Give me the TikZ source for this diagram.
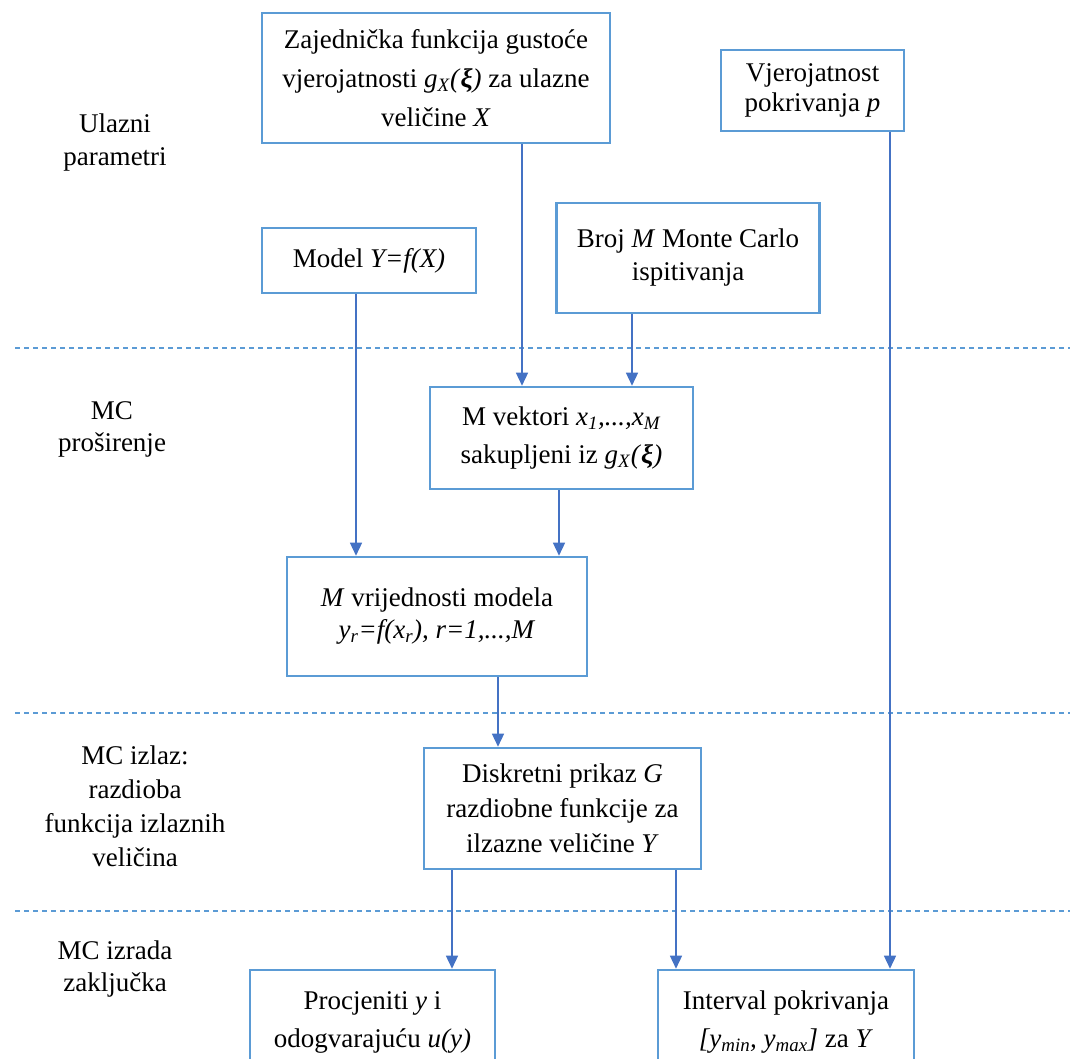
\documentclass[tikz,border=0pt]{standalone}
\usepackage{fontspec}
\setmainfont{Liberation Serif}
\usetikzlibrary{arrows.meta}
\definecolor{boxblue}{RGB}{91,155,213}
\definecolor{arrblue}{RGB}{68,114,196}
\newcommand{\sbs}[1]{\textsubscript{#1}}
\tikzset{
 blk/.style={draw=boxblue, line width=2.6pt, align=center, inner sep=0pt, text=black},
 fs/.style={font=\fontsize{27}{#1}\selectfont},
 arr/.style={draw=arrblue, line width=1.5pt, -{Triangle[width=12pt,length=13pt]}},
 sepline/.style={draw=boxblue, line width=1.3pt, dash pattern=on 5pt off 4pt},
 lab/.style={align=center, inner sep=0pt, text=black},
}
\begin{document}
\begin{tikzpicture}[x=1pt,y=-1pt]
\useasboundingbox (0,0) rectangle (1072,1059);
\clip (0,0) rectangle (1072,1059);

% separators
\draw[sepline] (15,348) -- (1070,348);
\draw[sepline] (15,713) -- (1070,713);
\draw[sepline] (15,911) -- (1070,911);

% left labels
\node[lab, fs=33] (l1) at (115,143) {Ulazni\\parametri};
\node[lab, fs=32] (l2) at (112,429) {MC\\proširenje};
\node[lab, fs=34] (l3) at (135,806) {MC izlaz:\\razdioba\\funkcija izlaznih\\veličina};
\node[lab, fs=32] (l4) at (115,969) {MC izrada\\zaključka};

% boxes
\node[blk, fs=39, minimum width=348pt, minimum height=130pt] (dens) at (436,78)
  {Zajednička funkcija gustoće\\vjerojatnosti \textit{g}\sbs{\textit{X}}\textit{(}\textbf{\textit{ξ}}\textit{)} za ulazne\\veličine \textit{X}};
\node[blk, fs=30, minimum width=183pt, minimum height=81pt] (vjer) at (812.5,90.5)
  {Vjerojatnost\\pokrivanja \textit{p}};
\node[blk, fs=30, minimum width=214pt, minimum height=65pt] (model) at (369,260.5)
  {Model \textit{Y=f(X)}};
\node[blk, fs=33, minimum width=263pt, minimum height=110pt] (broj) at (688,258)
  {Broj \textit{M} Monte Carlo\\ispitivanja};
\node[blk, fs=38, minimum width=263pt, minimum height=102pt] (vekt) at (561.5,438)
  {M vektori \textit{x}\sbs{\textit{1}}\textit{,...,x}\sbs{\textit{M}}\\sakupljeni iz \textit{g}\sbs{\textit{X}}\textit{(}\textbf{\textit{ξ}}\textit{)}};
\node[blk, fs=32, minimum width=300pt, minimum height=119pt] (vrij) at (437,616.5)
  {\raisebox{-5pt}{\textit{M} vrijednosti modela}\\\raisebox{-5pt}{\textit{y}\sbs{\textit{r}}\textit{=f(x}\sbs{\textit{r}}\textit{), r=1,...,M}}};
\node[blk, fs=35, minimum width=277pt, minimum height=121pt] (disk) at (562.5,808.5)
  {Diskretni prikaz \textit{G}\\razdiobne funkcije za\\ilzazne veličine \textit{Y}};
\node[blk, fs=38, minimum width=245pt, minimum height=104pt] (proc) at (372.5,1022)
  {Procjeniti \textit{y} i\\odogvarajuću \textit{u(y)}};
\node[blk, fs=38, minimum width=256pt, minimum height=104pt] (intv) at (786,1022)
  {Interval pokrivanja\\\textit{[y}\sbs{\textit{min}}\textit{, y}\sbs{\textit{max}}\textit{]} za \textit{Y}};

% connectors
\draw[arr] ([xshift=86pt]dens.south) -- ([xshift=86pt]dens.south |- vekt.north);
\draw[arr] ([xshift=-56pt]broj.south) -- ([xshift=-56pt]broj.south |- vekt.north);
\draw[arr] ([xshift=-13pt]model.south) -- ([xshift=-13pt]model.south |- vrij.north);
\draw[arr] ([xshift=-2.5pt]vekt.south) -- ([xshift=-2.5pt]vekt.south |- vrij.north);
\draw[arr] ([xshift=61pt]vrij.south) -- ([xshift=61pt]vrij.south |- disk.north);
\draw[arr] ([xshift=-110.5pt]disk.south) -- ([xshift=-110.5pt]disk.south |- proc.north);
\draw[arr] ([xshift=113.5pt]disk.south) -- ([xshift=113.5pt]disk.south |- intv.north);
\draw[arr] ([xshift=77.5pt]vjer.south) -- ([xshift=77.5pt]vjer.south |- intv.north);
\end{tikzpicture}
\end{document}
